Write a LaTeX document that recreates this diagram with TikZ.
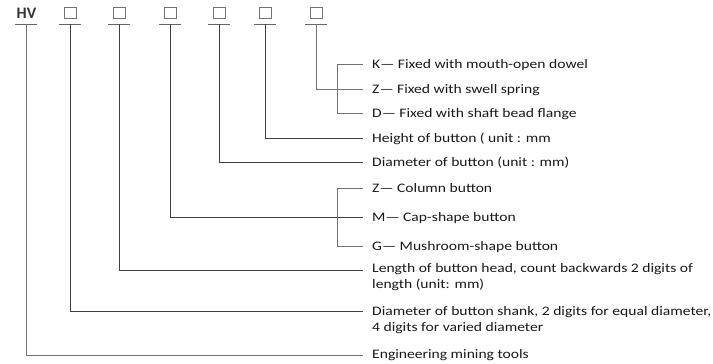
\documentclass[tikz,border=0pt]{standalone}
\usepackage{fontspec}
\setmainfont{Carlito}
\newfontfamily\widefont[FakeStretch=1.2]{Carlito}
\begin{document}
\begin{tikzpicture}[x=1pt,y=-1pt,
  lead/.style={draw=black!75,line width=0.8pt},
  thin lead/.style={draw=black!55,line width=0.7pt},
  codebox/.style={draw=black!55,line width=0.6pt,minimum width=12pt,minimum height=10.5pt,inner sep=0pt},
  uline/.style={draw=black!60,line width=0.7pt},
  label/.style={anchor=base west,inner sep=0pt,font=\widefont\fontsize{13}{16}\selectfont,text=black!90,align=left}]
\useasboundingbox (0,0) rectangle (713,364);
% header
\node[inner sep=0pt,anchor=base,font=\fontsize{16}{16}\selectfont\bfseries,text=black!80] (hv) at (26.5,19) {HV};
\foreach \n/\x in {1/70,2/119,3/170,4/219,5/265,6/316}{
  \node[codebox] (b\n) at (\x,13) {};
}
% underline coordinates
\foreach \n/\x in {0/26,1/70,2/119,3/170,4/219,5/265,6/316}{
  \coordinate (u\n) at (\x,24);
  \draw[uline] (\x-11,24) -- (\x+11,24);
}
% text nodes
\node[label] (tK) at (372,68) {K— Fixed with mouth-open dowel};
\node[label] (tZ) at (372,93) {Z— Fixed with swell spring};
\node[label] (tD) at (372,117) {D— Fixed with shaft bead flange};
\node[label] (tH) at (372,142) {Height of button ( unit : mm};
\node[label] (tDB) at (372,166) {Diameter of button (unit : mm)};
\node[label] (tZC) at (372,192) {Z— Column button};
\node[label] (tM) at (372,221) {M— Cap-shape button};
\node[label] (tG) at (372,250) {G— Mushroom-shape button};
\node[label] (tL) at (372,288) {Length of button head, count backwards 2 digits of\\length (unit: mm)};
\node[label] (tS) at (372,331) {Diameter of button shank, 2 digits for equal diameter,\\4 digits for varied diameter};
\node[label] (tE) at (372,358) {Engineering mining tools};
% line end coordinates
\coordinate (eK) at (363,64);
\coordinate (eZ) at (363,89);
\coordinate (eD) at (363,113);
\coordinate (eH) at (363,138);
\coordinate (eDB) at (363,162);
\coordinate (eZC) at (363,188);
\coordinate (eM) at (363,217);
\coordinate (eG) at (363,246);
\coordinate (eL) at (363,270);
\coordinate (eS) at (363,311);
\coordinate (eE) at (363,355);
% bracket coordinates
\coordinate (k1) at (337,64);
\coordinate (k2) at (337,113);
\coordinate (g1) at (337,188);
\coordinate (g2) at (337,246);
% connectors
\draw[thin lead] (u6) |- (eZ);
\draw[thin lead] (eK) -- (k1) -- (k2) -- (eD);
\draw[lead] (u5) |- (eH);
\draw[lead] (u4) |- (eDB);
\draw[lead] (u3) |- (eM);
\draw[thin lead] (eZC) -- (g1) -- (g2) -- (eG);
\draw[lead] (u2) |- (eL);
\draw[lead] (u1) |- (eS);
\draw[thin lead] (u0) |- (eE);
\end{tikzpicture}
\end{document}
